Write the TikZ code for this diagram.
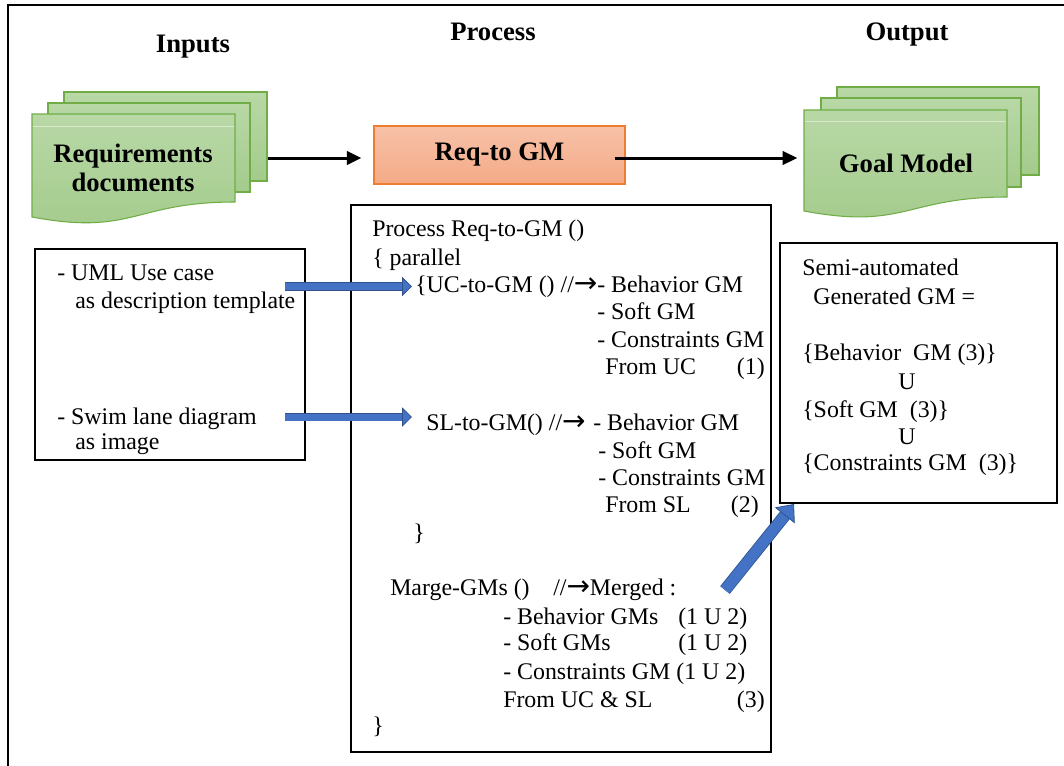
\documentclass[tikz,border=0pt]{standalone}
\usepackage{fontspec}
\setmainfont{Liberation Serif}
\newfontfamily\arrowfont{DejaVu Sans}
\usetikzlibrary{arrows.meta,fit,calc}

\definecolor{docTop}{RGB}{184,216,166}
\definecolor{docBot}{RGB}{163,203,139}
\definecolor{docLine}{RGB}{112,173,71}
\definecolor{reqTop}{RGB}{247,193,168}
\definecolor{reqBot}{RGB}{244,170,134}
\definecolor{reqLine}{RGB}{237,125,49}
\definecolor{blkFill}{RGB}{68,114,196}
\definecolor{blkLine}{RGB}{47,82,143}

\newcommand\bodyfont{\fontsize{17.9pt}{21pt}\selectfont}
\newcommand\headfont{\bfseries\fontsize{20pt}{21.75pt}\selectfont}
\newcommand\rarr{{\arrowfont\fontsize{21pt}{21pt}\selectfont →}}

\begin{document}
\begin{tikzpicture}[x=0.75pt,y=-0.75pt,
  ln/.style={anchor=base west, inner sep=0pt, font=\bodyfont},
  lnr/.style={anchor=base east, inner sep=0pt, font=\bodyfont},
  lnc/.style={anchor=base, inner sep=0pt, font=\bodyfont},
  heading/.style={anchor=base, inner sep=0pt, font=\headfont},
  docrect/.style={draw=docLine, line width=0.8pt, top color=docTop, bottom color=docBot, inner sep=0pt},
  docfront/.style={draw=docLine, line width=0.8pt, top color=docTop, bottom color=docBot},
  doctext/.style={inner sep=0pt, font=\headfont, align=center},
  reqbox/.style={draw=reqLine, line width=0.8pt, top color=reqTop, bottom color=reqBot, inner sep=0pt, font=\headfont},
  textbox/.style={draw=black, line width=0.9pt, inner sep=0pt},
  flow/.style={line width=2.25pt, -{Triangle[length=11pt, width=10pt]}},
  hblock/.style={draw=blkFill, line width=5.25pt,
    preaction={draw=blkLine, line width=6.4pt, arrows=-, shorten >=7.5pt},
    -{Triangle[length=7.5pt, width=14.5pt, fill=blkFill, color=blkLine, line width=0.6pt]}},
  dblock/.style={draw=blkFill, line width=8pt,
    preaction={draw=blkLine, line width=9.2pt, arrows=-, shorten >=11pt},
    -{Triangle[length=11pt, width=19pt, fill=blkFill, color=blkLine, line width=0.6pt]}}
]
\useasboundingbox (0,0) rectangle (1064,765);
\begin{scope}
\clip (0,0) rectangle (1064,765);
% outer frame
\draw[line width=1.5pt] (8,790) -- (8,5) -- (1090,5);
\end{scope}

% column headings
\node[heading] (hin) at (193,52) {Inputs};
\node[heading] (hproc) at (493,40) {Process};
\node[heading] (hout) at (907,40) {Output};

% requirements documents stack
\node[docrect, minimum width=152.25pt, minimum height=66.75pt] (reqback) at (165.5,136.5) {};
\node[docrect, minimum width=151.5pt, minimum height=66.75pt] (reqmid) at (149,147.5) {};
\draw[docfront] (32,114) -- (235,114) -- (235,202) .. controls (133.5,202) and (133.5,236) .. (32,217) -- cycle;
\draw[white, opacity=0.45, line width=0.6pt] (33,126) -- (234,126);
\node[doctext] (reqdoc) at (133,168) {Requirements\\documents};

% transformation step
\node[reqbox, minimum width=188.25pt, minimum height=43.5pt] (reqgm) at (499.5,155) {Req-to GM};

% goal model stack
\node[docrect, minimum width=151.5pt, minimum height=66pt] (goalback) at (938,131) {};
\node[docrect, minimum width=150pt, minimum height=66.75pt] (goalmid) at (921,142.5) {};
\draw[docfront] (804,110) -- (1007,110) -- (1007,197) .. controls (905.5,197) and (905.5,230) .. (804,211) -- cycle;
\draw[white, opacity=0.45, line width=0.6pt] (805,121) -- (1006,121);
\node[doctext] (goaldoc) at (906,163) {Goal Model};
\coordinate (goalW) at (804,158);

% main flow
\coordinate (row) at (0,158);
\draw[flow, shorten >=9pt] (reqback.east |- row) -- (reqgm.west |- row);
\draw[flow, shorten >=5pt] ([xshift=-8.25pt]reqgm.east |- row) -- (goalW);

% input description box
\node[textbox, fit={(35,249) (305,460)}] (inbox) {};
\node[ln] (in1) at (57,280) {- UML Use case};
\node[ln] (in2) at (75,308) {as description template};
\node[ln] (in3) at (57,424) {- Swim lane diagram};
\node[ln] (in4) at (75,449) {as image};

% process description box
\node[textbox, fit={(351,205) (771,752)}] (procbox) {};
\node[ln] (p1) at (372,236) {Process Req-to-GM ()};
\node[ln] (p2) at (372,265) {\{ parallel};
\node[ln] (p3) at (415,292) {\{UC-to-GM () //\rarr};
\node[ln] (p3b) at (597,292) {- Behavior GM};
\node[ln] (p4) at (597,319) {- Soft GM};
\node[ln] (p5) at (597,347) {- Constraints GM};
\node[ln] (p6) at (605,374) {From UC};
\node[lnr] (p6b) at (765,374) {(1)};
\node[ln] (p7) at (426,430) {SL-to-GM() //\rarr};
\node[ln] (p7b) at (593,430) {- Behavior GM};
\node[ln] (p8) at (598,458) {- Soft GM};
\node[ln] (p9) at (598,485) {- Constraints GM};
\node[ln] (p10) at (605,512) {From SL};
\node[lnr] (p10b) at (759,512) {(2)};
\node[ln] (p11) at (413,540) {\}};
\node[ln] (p12) at (390,595) {Marge-GMs ()};
\node[ln] (p12b) at (553,595) {//\rarr Merged :};
\node[ln] (p13) at (503,624) {- Behavior GMs};
\node[ln] (p13b) at (678,624) {(1 U 2)};
\node[ln] (p14) at (503,650) {- Soft GMs};
\node[ln] (p14b) at (678,650) {(1 U 2)};
\node[ln] (p15) at (503,679) {- Constraints GM (1 U 2)};
\node[ln] (p16) at (503,707) {From UC \& SL};
\node[lnr] (p16b) at (765,707) {(3)};
\node[ln] (p17) at (372,733) {\}};

% output description box
\node[textbox, fit={(780,243) (1057,503)}] (outbox) {};
\node[ln] (o1) at (802,275) {Semi-automated};
\node[ln] (o2) at (813,304) {Generated GM =};
\node[ln] (o3) at (802,360) {\{Behavior\ \ GM (3)\}};
\node[lnc] (o4) at (907,389) {U};
\node[ln] (o5) at (802,417) {\{Soft GM\ \ (3)\}};
\node[lnc] (o6) at (907,444) {U};
\node[ln] (o7) at (802,470) {\{Constraints GM\ \ (3)\}};

% block arrows feeding the process and the output
\coordinate (ucS) at (285,286.5);
\coordinate (ucE) at (412,286.5);
\coordinate (slS) at (285,417);
\coordinate (slE) at (412,417);
\coordinate (mgS) at (725,590);
\coordinate (mgE) at (794,504);
\draw[hblock] (ucS) -- (ucE);
\draw[hblock] (slS) -- (slE);
\draw[dblock] (mgS) -- (mgE);
\end{tikzpicture}
\end{document}
